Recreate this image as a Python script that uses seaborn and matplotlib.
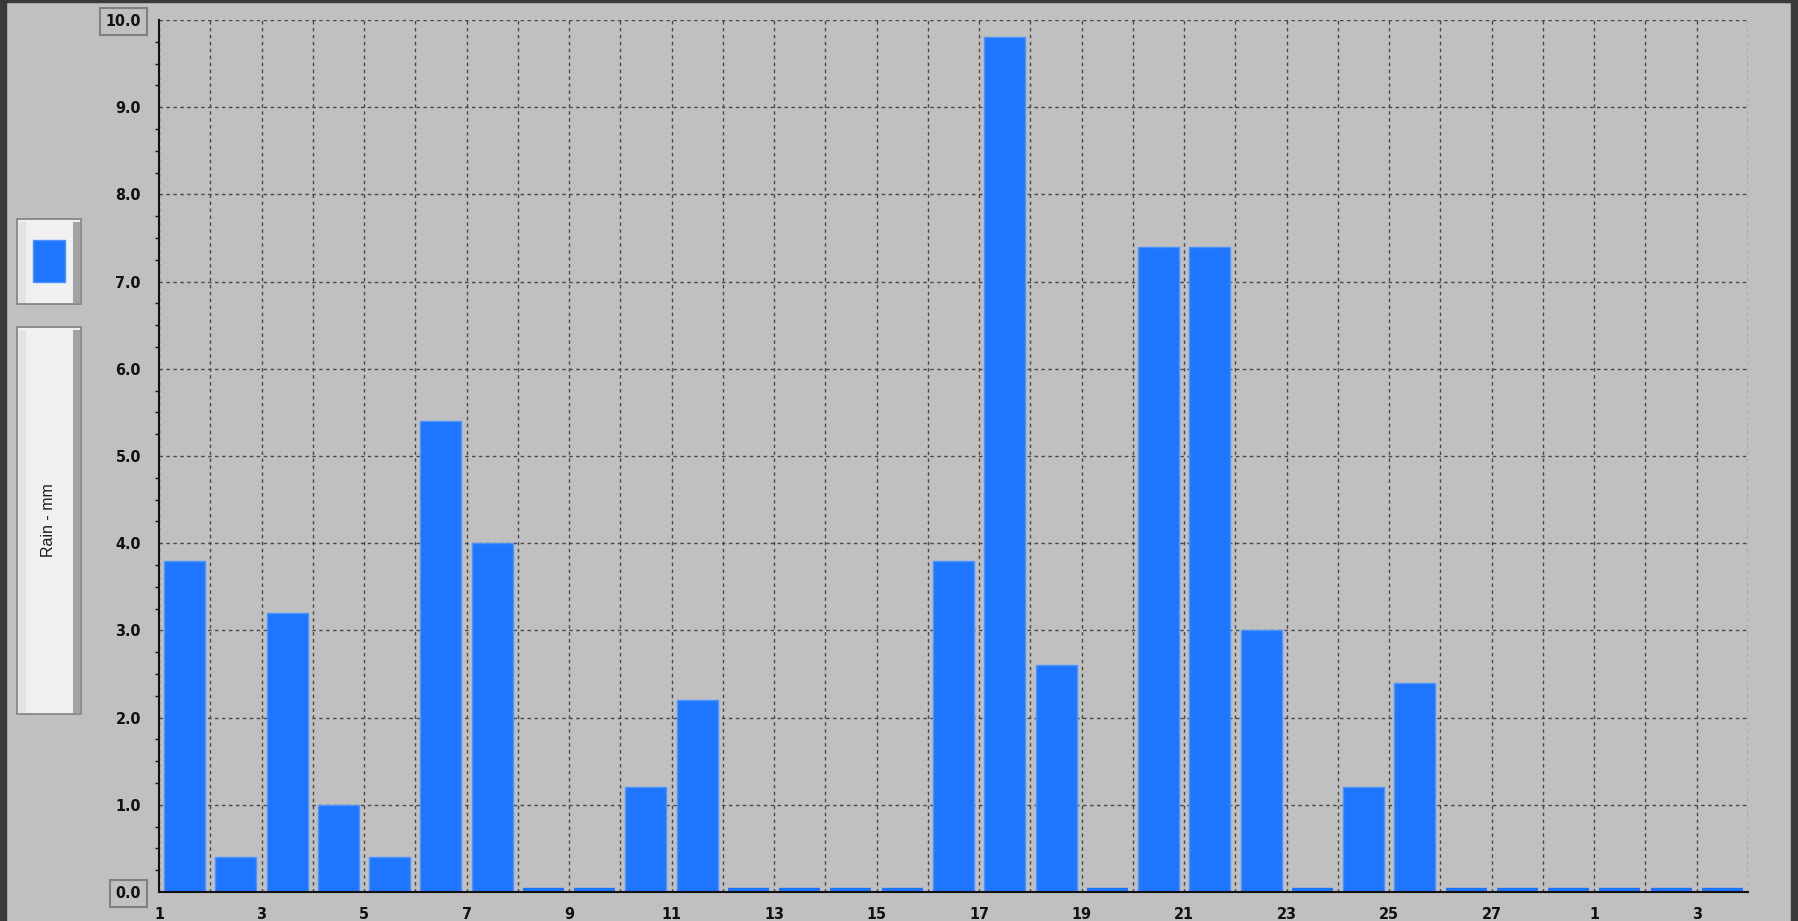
import matplotlib
matplotlib.use("Agg")
import matplotlib.pyplot as plt
import numpy as np
import pandas as pd
import seaborn as sns
from matplotlib import font_manager
from matplotlib.patches import Rectangle

# data: daily rain, Feb 1..28 then Mar 1..3
DAYS = list(range(1, 29)) + [1, 2, 3]
RAIN_MM = [3.8, 0.4, 3.2, 1.0, 0.4, 5.4, 4.0, 0.0, 0.0, 1.2,
           2.2, 0.0, 0.0, 0.0, 0.0, 3.8, 9.8, 2.6, 0.0, 7.4,
           7.4, 3.0, 0.0, 1.2, 2.4, 0.0, 0.0, 0.0, 0.0, 0.0, 0.0]
# labels on the day boundaries (one more than bars)
BOUNDARY_DAYS = list(range(1, 29)) + [1, 2, 3, 4]
Y_TICKS = [0.0, 1.0, 2.0, 3.0, 4.0, 5.0, 6.0, 7.0, 8.0, 9.0, 10.0]
SERIES_NAME = "Rain - mm"

W, H = 1799, 921
BG = "#c0c0c0"
BAR = "#1e76ff"

names = {f.name for f in font_manager.fontManager.ttflist}
TICK_FONT = "Liberation Sans Narrow" if "Liberation Sans Narrow" in names else "DejaVu Sans"

sns.set_theme(style="white")
plt.rcParams["font.family"] = ["Liberation Sans", "DejaVu Sans"]


def fx(px):
    return px / W


def fy(py):
    return 1 - py / H


fig = plt.figure(figsize=(W / 100, H / 100), dpi=100)
fig.patch.set_facecolor(BG)

# dark outer frame
fig.patches.append(Rectangle((0, 0), fx(6), 1, transform=fig.transFigure, color="#3a3a3a", zorder=0))
fig.patches.append(Rectangle((0, fy(2)), 1, fy(0) - fy(2), transform=fig.transFigure, color="#3a3a3a", zorder=0))
fig.patches.append(Rectangle((fx(1791), 0), 1, 1, transform=fig.transFigure, color="#3a3a3a", zorder=0))

ax = fig.add_axes([fx(159), fy(892), fx(1748) - fx(159), fy(20) - fy(892)])
ax.set_facecolor(BG)

df = pd.DataFrame({"pos": np.arange(len(RAIN_MM)), "rain": RAIN_MM})
sns.barplot(data=df, x="pos", y="rain", color=BAR, saturation=1, width=0.8,
            edgecolor="#4d93ff", linewidth=1, native_scale=True, ax=ax)

# empty days still show as a thin strip on the baseline
for p in ax.patches:
    if p.get_height() == 0:
        p.set_linewidth(6)
        p.set_edgecolor(BAR)

ax.set_xlim(-0.5, len(RAIN_MM) - 0.5)
ax.set_ylim(Y_TICKS[0], Y_TICKS[-1])

bounds = np.arange(len(BOUNDARY_DAYS)) - 0.5
ax.set_xticks(bounds)
ax.set_xticklabels([str(d) if i % 2 == 0 else "" for i, d in enumerate(BOUNDARY_DAYS)])
ax.set_yticks(Y_TICKS)
ax.set_yticklabels([f"{v:.1f}" for v in Y_TICKS])
ax.set_yticks(np.arange(0, 10.01, 0.25), minor=True)

ax.set_axisbelow(True)
ax.grid(True, which="major", color="#484848", linestyle=(0, (2.5, 2.5)), linewidth=1)

for s in ["top", "right"]:
    ax.spines[s].set_visible(False)
for s in ["left", "bottom"]:
    ax.spines[s].set_color("#111111")
    ax.spines[s].set_linewidth(1.5)
    ax.spines[s].set_zorder(5)

ax.tick_params(axis="x", which="major", direction="out", length=6, width=1.2, color="#111111", pad=5)
ax.tick_params(axis="y", which="major", direction="out", length=7, width=1.2, color="#111111", pad=6)
ax.tick_params(axis="y", which="minor", direction="out", length=3, width=1, color="#111111", left=True)
for lab in ax.get_xticklabels() + ax.get_yticklabels():
    lab.set_family([TICK_FONT, "DejaVu Sans"])
    lab.set_fontweight("bold")
    lab.set_fontstretch("condensed")
    lab.set_fontsize(11.5)
    lab.set_color("#111111")

ylabs = ax.get_yticklabels()
for lab in (ylabs[0], ylabs[-1]):
    lab.set_bbox(dict(boxstyle="square,pad=0.35", facecolor="none", edgecolor="#808080", linewidth=1.5))

ax.set_xlabel("")
ax.set_ylabel("")


def panel(x0, y0, x1, y1):
    fig.patches.append(Rectangle((fx(x0), fy(y1)), fx(x1 - x0), fy(y0) - fy(y1), transform=fig.transFigure,
                                 facecolor="#f0f0f0", edgecolor="#808080", linewidth=1.2, zorder=1))
    fig.patches.append(Rectangle((fx(x0 + 1), fy(y1 - 1)), fx(8), fy(y0 + 3) - fy(y1 - 1), transform=fig.transFigure,
                                 facecolor="#e3e3e3", edgecolor="none", zorder=2))
    fig.patches.append(Rectangle((fx(x1 - 8), fy(y1 - 1)), fx(7), fy(y0 + 3) - fy(y1 - 1), transform=fig.transFigure,
                                 facecolor="#a3a3a3", edgecolor="none", zorder=2))


# legend panels on the left
panel(17, 219, 81, 304)
fig.patches.append(Rectangle((fx(33), fy(282)), fx(32), fy(240) - fy(282), transform=fig.transFigure,
                             facecolor=BAR, edgecolor="#4a90ff", linewidth=1, zorder=3))
panel(17, 327, 81, 714)
fig.text(fx(49), fy(520), SERIES_NAME, rotation=90, ha="center", va="center", fontsize=11.5, color="#1a1a1a")

fig.savefig("out.png", dpi=100, facecolor=fig.get_facecolor())
